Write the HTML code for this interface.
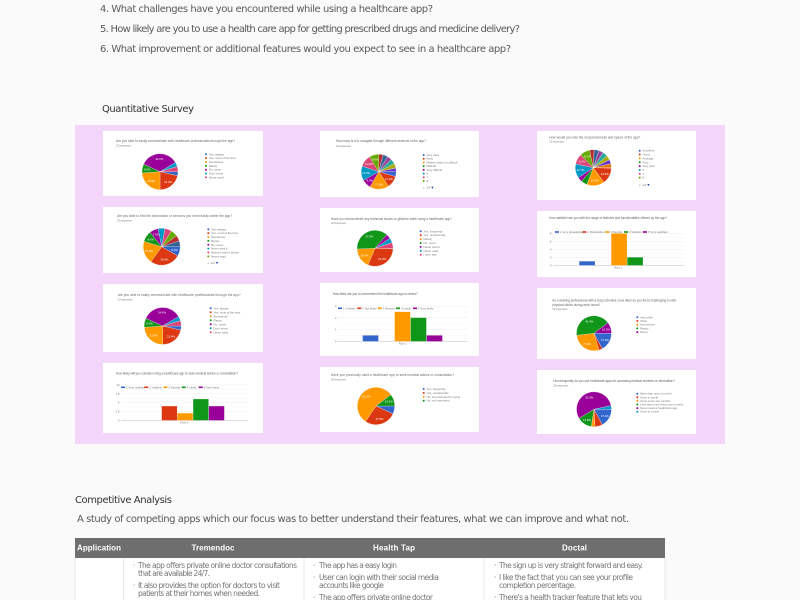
<!DOCTYPE html>
<html lang="en">
<head>
<meta charset="utf-8">
<title>Quantitative Survey and Competitive Analysis</title>
<style>
html,body{margin:0;padding:0;background:#fafafa;width:800px;height:600px;overflow:hidden}
svg{display:block;position:absolute;left:0;top:0}
text{font-family:"DejaVu Sans","Liberation Sans",sans-serif}
#charts{filter:blur(0.3px)}
.q{font-size:10px;fill:#5a5a5a}
.h{font-size:10px;fill:#333}
.th{font-size:8px;font-weight:bold;fill:#fff;font-family:"Liberation Sans",sans-serif}
.td{font-size:7.5px;fill:#777}
.ct{font-size:3.2px;fill:#666;font-family:"Liberation Sans",sans-serif}
.cs{font-size:2.8px;fill:#888;font-family:"Liberation Sans",sans-serif}
.cl{font-size:2.9px;fill:#777;font-family:"Liberation Sans",sans-serif}
.pv{font-size:2.8px;fill:#fff;font-family:"Liberation Sans",sans-serif}
</style>
</head>
<body>
<svg id="page" xmlns="http://www.w3.org/2000/svg" width="800" height="600" viewBox="0 0 800 600">
  <text class="q" x="100" y="12" textLength="333">4. What challenges have you encountered while using a healthcare app?</text>
  <text class="q" x="100" y="32" textLength="420">5. How likely are you to use a health care app for getting prescribed drugs and medicine delivery?</text>
  <text class="q" x="100" y="52" textLength="411">6. What improvement or additional features would you expect to see in a healthcare app?</text>
  <text class="h" x="102" y="112" textLength="92">Quantitative Survey</text>

  <rect x="75" y="125" width="650" height="319" fill="#f5d6fb"/>
  <g id="charts"></g>

  <text class="h" x="75" y="503" textLength="97">Competitive Analysis</text>
  <text class="q" x="77" y="522" textLength="552">A study of competing apps which our focus was to better understand their features, what we can improve and what not.</text>

  <g>
    <rect x="75" y="557" width="590" height="43" fill="#fff"/>
    <rect x="75" y="538" width="590" height="20" fill="#6e6e6e"/>
    <line x1="123.5" y1="558" x2="123.5" y2="600" stroke="#ddd" stroke-width="0.7"/>
    <line x1="304" y1="558" x2="304" y2="600" stroke="#ddd" stroke-width="0.7"/>
    <line x1="484" y1="558" x2="484" y2="600" stroke="#ddd" stroke-width="0.7"/>
    <line x1="665" y1="558" x2="665" y2="600" stroke="#ddd" stroke-width="0.7"/>
    <line x1="75" y1="558" x2="75" y2="600" stroke="#ddd" stroke-width="0.7"/>
    <text class="th" x="99" y="550.5" text-anchor="middle" textLength="44">Application</text>
    <text class="th" x="213" y="550.5" text-anchor="middle" textLength="43">Tremendoc</text>
    <text class="th" x="394" y="550.5" text-anchor="middle" textLength="42">Health Tap</text>
    <text class="th" x="574.5" y="550.5" text-anchor="middle" textLength="25">Doctal</text>

    <text class="td" x="133" y="568">·</text>
    <text class="td" x="138" y="568" textLength="159">The app offers private online doctor consultations</text>
    <text class="td" x="138" y="576" textLength="72">that are available 24/7.</text>
    <text class="td" x="133" y="588">·</text>
    <text class="td" x="138" y="588" textLength="142">It also provides the option for doctors to visit</text>
    <text class="td" x="138" y="596" textLength="122">patients at their homes when needed.</text>

    <text class="td" x="313" y="568">·</text>
    <text class="td" x="319" y="568" textLength="78">The app has a easy login</text>
    <text class="td" x="313" y="580">·</text>
    <text class="td" x="319" y="580" textLength="120">User can login with their social media</text>
    <text class="td" x="319" y="588" textLength="65">accounts like google</text>
    <text class="td" x="313" y="600">·</text>
    <text class="td" x="319" y="600" textLength="114">The app offers private online doctor</text>

    <text class="td" x="494" y="568">·</text>
    <text class="td" x="499" y="568" textLength="144">The sign up is very straight forward and easy.</text>
    <text class="td" x="494" y="580">·</text>
    <text class="td" x="499" y="580" textLength="134">I like the fact that you can see your profile</text>
    <text class="td" x="499" y="588" textLength="77">completion percentage.</text>
    <text class="td" x="494" y="600">·</text>
    <text class="td" x="499" y="600" textLength="143">There's a health tracker feature that lets you</text>
  </g>
</svg>

<script>
// ---- chart data ----
const communicateValues = [3.6, 21.4, 23.9, 8, 34.6, 3.9, 4.6];
const communicateLabels = ["Yes, always", "Yes, most of the time", "Sometimes", "Rarely", "No, never", "Don't know", "Never used"];

const findInfoValues = [8.2, 26.4, 19.6, 9.5, 7.5, 6, 6, 6, 5, 5];
const findInfoLabels = ["Yes, always", "Yes, most of the time", "Sometimes", "Rarely", "No, never", "Never tried it", "Haven't used it before", "Never used"];

const navigateValues = [4.5, 11, 17.8, 0, 8.5, 13.3, 11, 8.9, 4, 4.4, 4.4, 4.4, 4.4, 3.3];
const navigateLabels = ["Very easy", "Easy", "Neither easy nor difficult", "Difficult", "Very difficult", "6", "7", "8"];

const glitchValues = [0.3, 31, 18, 37, 4.3, 4.3, 5];
const glitchLabels = ["Yes, frequently", "Yes, occasionally", "Rarely", "No, never", "Never tried it", "Never used", "I can't say"];

const usedBeforeValues = [6.9, 27.6, 55.2, 10.3];
const usedBeforeLabels = ["Yes, frequently", "Yes, occasionally", "No, but interested in trying", "No, not interested"];

const speedValues = [0.5, 14.3, 15.5, 5.5, 4.2, 12.5, 9, 9, 4, 4.2, 4.2, 4.2, 4.2, 3.5, 3.5];
const speedLabels = ["Excellent", "Good", "Average", "Poor", "Very poor", "6", "7", "8"];

const clinicValues = [17.2, 3.4, 27.6, 41.4, 10.3];
const clinicLabels = ["Very often", "Often", "Sometimes", "Rarely", "Never"];

const frequencyValues = [17.2, 6.9, 3.4, 13.8, 55.2, 3.4];
const frequencyLabels = ["More than once a month", "Once a month", "Once every two months", "Less than once every two months", "Never used a healthcare app", "Once in a year"];

const considerValues = [0, 4, 2, 6, 4];
const considerSeries = ["1 Very unlikely", "2 Unlikely", "3 Neutral", "4 Likely", "5 Very likely"];
const considerTicks = [0, 2.5, 5, 7.5, 10];

const recommendValues = [0.5, 0, 2.5, 2, 0.5];
const recommendSeries = ["1 Unlikely", "2 Not likely", "3 Neutral", "4 Likely", "5 Very likely"];
const recommendTicks = [0, 1, 2, 3];

const satisfiedValues = [1, 0, 8, 2, 0];
const satisfiedSeries = ["1 Very dissatisfied", "2 Dissatisfied", "3 Neutral", "4 Satisfied", "5 Very satisfied"];
const satisfiedTicks = [0, 2, 4, 6, 8];

const palette = ["#3366cc", "#dc3912", "#ff9900", "#109618", "#990099", "#0099c6", "#dd4477", "#66aa00", "#b82e2e", "#316395", "#994499", "#22aa99", "#aaaa11", "#6633cc", "#e67300", "#8b0707"];

// ---- rendering ----
const NS = "http://www.w3.org/2000/svg";
const chartsRoot = document.getElementById("charts");

function make(parent, tag, attrs, content) {
  const el = document.createElementNS(NS, tag);
  for (const k in attrs) el.setAttribute(k, attrs[k]);
  if (content !== undefined) el.textContent = content;
  parent.appendChild(el);
  return el;
}

function drawCard(c) {
  const g = make(chartsRoot, "g", {});
  
  
  const bg = make(g, "rect", {x: c.x, y: c.y, width: c.w, height: c.h, fill: "#fff"});
  
  
  c.title.forEach(function (line) {
    const t = make(g, "text", {class: "ct", x: line.x, y: line.y, textLength: line.len}, line.text);
    
    
  });
  if (c.resp) {
    const r = make(g, "text", {class: "cs", x: c.resp.x, y: c.resp.y, textLength: 15}, c.resp.text);
    
    
  }
  return g;
}

function polar(cx, cy, r, deg) {
  const a = (deg - 90) * Math.PI / 180;
  return [cx + r * Math.cos(a), cy + r * Math.sin(a)];
}

function drawPie(c, values, labels) {
  const g = drawCard(c);
  const total = values.reduce(function (a, b) { return a + b; }, 0);
  let angle = 90;
  values.forEach(function (v, i) {
    const sweep = v / total * 360;
    if (sweep <= 0) return;
    const p1 = polar(c.cx, c.cy, c.r, angle);
    const p2 = polar(c.cx, c.cy, c.r, angle + sweep);
    const d = "M" + c.cx + " " + c.cy + "L" + p1[0] + " " + p1[1] + "A" + c.r + " " + c.r + " 0 " + (sweep > 180 ? 1 : 0) + " 1 " + p2[0] + " " + p2[1] + "Z";
    const s = make(g, "path", {d: d, fill: palette[i % palette.length], stroke: "#fff", "stroke-width": 0.25});
    
    
    if (sweep > 27) {
      const lp = polar(c.cx, c.cy, c.r * 0.72, angle + sweep / 2);
      const pct = (v / total * 100).toFixed(1) + "%";
      const t = make(g, "text", {class: "pv", x: lp[0], y: lp[1] + 1, "text-anchor": "middle"}, pct);
      
      
    }
    angle += sweep;
  });
  labels.forEach(function (lab, i) {
    const y = c.ly + i * c.step;
    const dot = make(g, "circle", {cx: c.lx, cy: y, r: 1, fill: palette[i % palette.length]});
    
    
    const t = make(g, "text", {class: "cl", x: c.lx + 2.8, y: y + 1}, lab);
    
    
  });
  if (c.pagerY) {
    const pg = make(g, "text", {class: "cl", x: c.lx + 2.5, y: c.pagerY + 1}, "1/2");
    
    
    const up = make(g, "path", {d: "M" + (c.lx - 1) + " " + (c.pagerY + 1) + "h2l-1 -2z", fill: "#ccc"});
    
    
    const dn = make(g, "path", {d: "M" + (c.lx + 7.5) + " " + (c.pagerY - 1) + "h2.4l-1.2 2z", fill: "#1a3fb0"});
    
    
  }
}

function drawBars(c, values, series, ticks) {
  const g = drawCard(c);
  const maxTick = ticks[ticks.length - 1];
  const yScale = function (v) { return c.base - (v / maxTick) * (c.base - c.top); };
  const xScale = function (i) { return c.barX + i * c.slot; };
  const steps = ticks.length - 1;
  for (let k = 0; k <= steps * 2; k++) {
    const v = maxTick * k / (steps * 2);
    const gl = make(g, "line", {x1: c.px1, x2: c.px2, y1: yScale(v), y2: yScale(v), stroke: k === 0 ? "#bbb" : (k % 2 ? "#f4f4f4" : "#e8e8e8"), "stroke-width": k === 0 ? 0.5 : 0.4});
    
    
  }
  ticks.forEach(function (tv) {
    const t = make(g, "text", {class: "cl", x: c.px1 - 1.5, y: yScale(tv) + 1, "text-anchor": "end"}, String(tv));
    
    
  });
  values.forEach(function (v, i) {
    if (v <= 0) return;
    const b = make(g, "rect", {x: xScale(i), y: yScale(v), width: c.slot - 0.4, height: c.base - yScale(v), fill: palette[i]});
    
    
  });
  const xl = make(g, "text", {class: "cl", x: (c.px1 + c.px2) / 2, y: c.base + 3.2, "text-anchor": "middle"}, "Row 1");
  
  
  series.forEach(function (s, i) {
    const sw = make(g, "rect", {x: c.legendX[i], y: c.legendY - 0.8, width: 4, height: 1.6, fill: palette[i]});
    
    
    const t = make(g, "text", {class: "cl", x: c.legendX[i] + 5, y: c.legendY + 1}, s);
    
    
  });
}

// column 1
drawPie({name: "communicate-pie-1", x: 103, y: 131, w: 160, h: 65,
  title: [{x: 116, y: 142, len: 119, text: "Are you able to easily communicate with healthcare professionals through the app?"}],
  resp: {x: 116, y: 146.5, text: "23 responses"},
  cx: 160, cy: 171.7, r: 18, lx: 206, ly: 154.3, step: 3.85}, communicateValues, communicateLabels);

drawPie({name: "find-info-pie", x: 103, y: 207, w: 160, h: 66,
  title: [{x: 117, y: 217, len: 115, text: "Are you able to find the information or services you need easily within the app?"}],
  resp: {x: 117, y: 221.5, text: "23 responses"},
  cx: 161.7, cy: 246.7, r: 18.5, lx: 208.3, ly: 229.3, step: 3.87, pagerY: 263}, findInfoValues, findInfoLabels);

drawPie({name: "communicate-pie-2", x: 103, y: 284, w: 160, h: 68,
  title: [{x: 117.7, y: 296, len: 123, text: "Are you able to easily communicate with healthcare professionals through the app?"}],
  resp: {x: 117.7, y: 300.3, text: "23 responses"},
  cx: 162.7, cy: 326, r: 18.5, lx: 210.7, ly: 308.3, step: 4}, communicateValues, communicateLabels);

drawBars({name: "consider-bar", x: 103, y: 363, w: 160, h: 70,
  title: [{x: 116, y: 374.7, len: 122, text: "How likely will you consider using a healthcare app to seek medical advice or consultation?"}],
  px1: 121, px2: 248, base: 420.3, top: 385, barX: 146, slot: 15.73,
  legendX: [121, 144.3, 163.3, 181.7, 198.7], legendY: 387.3}, considerValues, considerSeries, considerTicks);

// column 2
drawPie({name: "navigate-pie", x: 320, y: 131, w: 159, h: 66,
  title: [{x: 336, y: 142, len: 90, text: "How easy is it to navigate through different sections of the app?"}],
  resp: {x: 336, y: 147, text: "23 responses"},
  cx: 378.7, cy: 171.7, r: 17.5, lx: 423.7, ly: 155, step: 3.72, pagerY: 187.7}, navigateValues, navigateLabels);

drawPie({name: "glitches-pie", x: 320, y: 208, w: 159, h: 64,
  title: [{x: 331, y: 220, len: 121, text: "Have you encountered any technical issues or glitches while using a healthcare app?"}],
  resp: {x: 331, y: 224, text: "23 responses"},
  cx: 375, cy: 248.3, r: 18, lx: 420.7, ly: 231.3, step: 3.9}, glitchValues, glitchLabels);

drawBars({name: "recommend-bar", x: 320, y: 283, w: 159, h: 73,
  title: [{x: 332.7, y: 295, len: 85, text: "How likely are you to recommend the healthcare app to others?"}],
  px1: 338, px2: 467.7, base: 341.3, top: 306, barX: 362.7, slot: 16,
  legendX: [338, 357.3, 377.7, 396, 413], legendY: 308.3}, recommendValues, recommendSeries, recommendTicks);

drawPie({name: "used-before-pie", x: 320, y: 367, w: 159, h: 65,
  title: [{x: 331, y: 376, len: 123, text: "Have you previously used a healthcare app to seek medical advice or consultation?"}],
  resp: {x: 331, y: 380.3, text: "29 responses"},
  cx: 376, cy: 406, r: 18.7, lx: 423.7, ly: 389, step: 3.9}, usedBeforeValues, usedBeforeLabels);

// column 3
drawPie({name: "speed-pie", x: 537, y: 131, w: 159, h: 69,
  title: [{x: 549.3, y: 138.3, len: 91, text: "How would you rate the responsiveness and speed of the app?"}],
  resp: {x: 549.3, y: 142.7, text: "23 responses"},
  cx: 593.3, cy: 167.7, r: 18, lx: 639.7, ly: 150.7, step: 3.85, pagerY: 185}, speedValues, speedLabels);

drawBars({name: "satisfied-bar", x: 537, y: 211, w: 159, h: 66,
  title: [{x: 549, y: 219, len: 118, text: "How satisfied are you with the range of features and functionalities offered by the app?"}],
  px1: 553, px2: 684, base: 265.3, top: 233.5, barX: 579.3, slot: 16,
  legendX: [555, 582.3, 605.3, 624, 643], legendY: 232}, satisfiedValues, satisfiedSeries, satisfiedTicks);

drawPie({name: "clinic-pie", x: 537, y: 288, w: 159, h: 71,
  title: [
    {x: 552.3, y: 301.7, len: 123.4, text: "As a working professional with a busy schedule, how often do you find it challenging to visit"},
    {x: 552.3, y: 306, len: 48, text: "physical clinics during work hours?"}
  ],
  resp: {x: 552.3, y: 310, text: "29 responses"},
  cx: 594, cy: 333.3, r: 17.5, lx: 637.3, ly: 317.3, step: 3.7}, clinicValues, clinicLabels);

drawPie({name: "frequency-pie", x: 537, y: 370, w: 159, h: 64,
  title: [{x: 553.3, y: 382, len: 121.7, text: "How frequently do you use healthcare apps for accessing medical services or information?"}],
  resp: {x: 553.3, y: 386.3, text: "29 responses"},
  cx: 594, cy: 409.3, r: 17.5, lx: 637.3, ly: 393.7, step: 3.6}, frequencyValues, frequencyLabels);
</script>
</body>
</html>
